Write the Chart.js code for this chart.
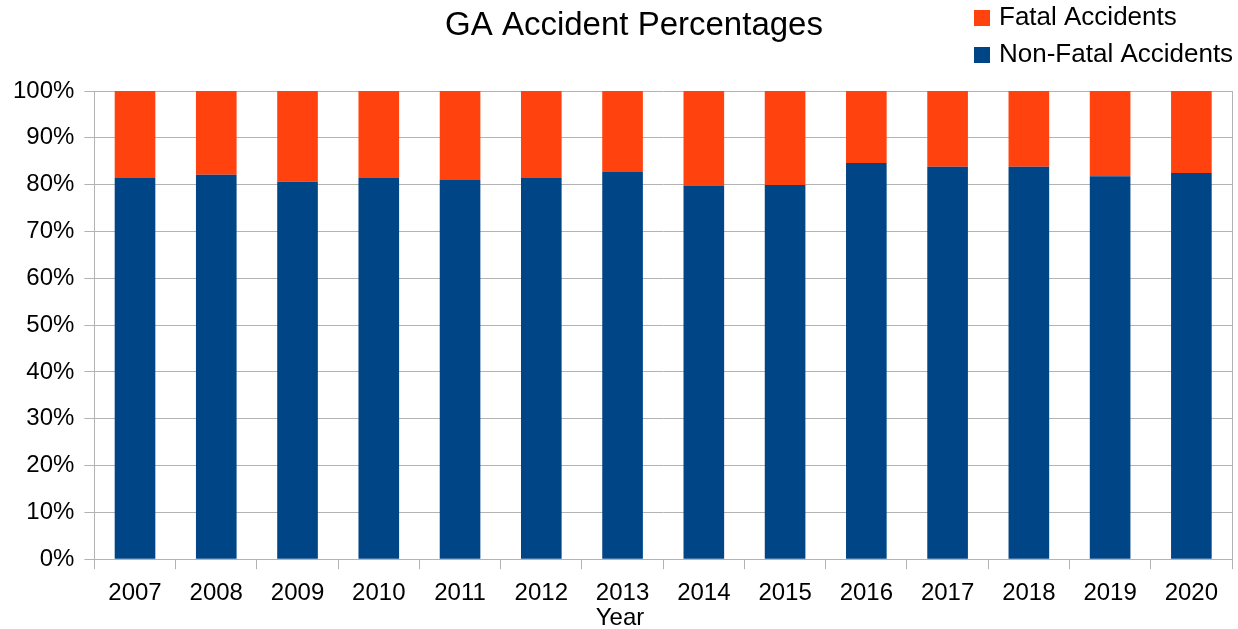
<!DOCTYPE html>
<html>
<head>
<meta charset="utf-8">
<script src="https://cdn.jsdelivr.net/npm/chart.js@4/dist/chart.umd.min.js"></script>
<style>
  html, body { margin: 0; padding: 0; background: #fff; }
  #wrap { width: 1238px; height: 629px; }
</style>
</head>
<body>
<div id="wrap"><canvas id="myChart"></canvas></div>
<script>
var years = ['2007', '2008', '2009', '2010', '2011', '2012', '2013', '2014', '2015', '2016', '2017', '2018', '2019', '2020'];
var nonFatal = [81.4, 82.1, 80.6, 81.4, 81.0, 81.4, 82.7, 79.7, 79.9, 84.6, 83.8, 83.8, 81.8, 82.5];
var fatal = [18.6, 17.9, 19.4, 18.6, 19.0, 18.6, 17.3, 20.3, 20.1, 15.4, 16.2, 16.2, 18.2, 17.5];
var chartTitle = 'GA Accident Percentages';
var xTitle = 'Year';

var gridGray = '#b3b3b3';
var font = 'Liberation Sans, Arial, sans-serif';

// title, x axis title and the vertical legend top right, drawn by hand
var headerPlugin = {
    id: 'header',
    afterDraw: function(chart) {
        var ctx = chart.ctx;
        ctx.save();
        ctx.fillStyle = '#000';
        ctx.textBaseline = 'middle';
        ctx.textAlign = 'center';
        ctx.font = '33px ' + font;
        ctx.fillText(chartTitle, 634, 26);

        ctx.font = '24px ' + font;
        ctx.fillText(xTitle, 620, 618);

        ctx.textAlign = 'left';
        ctx.font = '26px ' + font;
        var ds = chart.data.datasets.slice().reverse();
        for (var i = 0; i < ds.length; i++) {
            var y = 18 + i * 37;
            ctx.fillStyle = ds[i].backgroundColor;
            ctx.fillRect(974, y - 8, 16, 16);
            ctx.fillStyle = '#000';
            ctx.fillText(ds[i].label, 999, y);
        }
        ctx.restore();
    }
};

var ctx = document.getElementById('myChart').getContext('2d');
var chart = new Chart(ctx, {
    type: 'bar',
    data: {
        labels: years,
        datasets: [{
            label: 'Non-Fatal Accidents',
            backgroundColor: '#004586',
            data: nonFatal
        }, {
            label: 'Fatal Accidents',
            backgroundColor: '#ff420e',
            data: fatal
        }]
    },
    options: {
        responsive: true,
        maintainAspectRatio: false,
        animation: false,
        layout: { padding: { top: 91, left: 3, right: 6, bottom: 11 } },
        plugins: {
            legend: { display: false },
            tooltip: { enabled: false }
        },
        datasets: {
            bar: { barPercentage: 0.5, categoryPercentage: 1.0 }
        },
        scales: {
            x: {
                stacked: true,
                grid: {
                    // only the closing line on the right edge shows in the plot
                    color: function(c) { return c.type === 'scale' ? gridGray : 'rgba(0,0,0,0)'; },
                    tickColor: gridGray,
                    tickLength: 10
                },
                border: { color: gridGray },
                ticks: { color: '#000', font: { family: font, size: 24 }, padding: 10 }
            },
            y: {
                stacked: true,
                min: 0,
                max: 100,
                grid: { color: gridGray, tickColor: gridGray, tickLength: 10 },
                border: { color: gridGray },
                ticks: {
                    stepSize: 10,
                    color: '#000',
                    font: { family: font, size: 24 },
                    padding: 10,
                    callback: function(v) { return v + '%'; }
                }
            }
        }
    },
    plugins: [headerPlugin]
});
</script>
</body>
</html>
